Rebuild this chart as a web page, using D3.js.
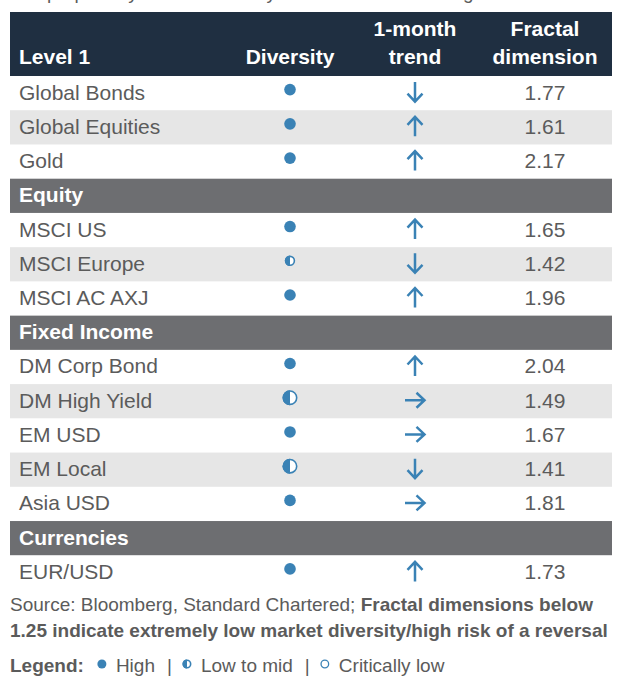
<!DOCTYPE html>
<html>
<head>
<meta charset="utf-8">
<script src="https://cdn.jsdelivr.net/npm/d3@7"></script>
<style>
  html, body { margin: 0; padding: 0; background: #fff; }
  svg { display: block; }
  text { font-family: "Liberation Sans", Arial, Helvetica, sans-serif; }
</style>
</head>
<body>
<div id="chart"></div>
<script>
// ---- data ----
const sections = ["Level 1", "Equity", "Fixed Income", "Currencies"];
const assets = ["Global Bonds", "Global Equities", "Gold", "MSCI US", "MSCI Europe", "MSCI AC AXJ",
  "DM Corp Bond", "DM High Yield", "EM USD", "EM Local", "Asia USD", "EUR/USD"];
const assetSection = [0, 0, 0, 1, 1, 1, 2, 2, 2, 2, 2, 3];
const diversity = ["high", "high", "high", "high", "mid-small", "high", "high", "mid", "high", "mid", "high", "high"];
const trend = ["down", "up", "up", "up", "down", "up", "up", "right", "right", "down", "right", "up"];
const fractal = [1.77, 1.61, 2.17, 1.65, 1.42, 1.96, 2.04, 1.49, 1.67, 1.41, 1.81, 1.73];
const headers = [["Level 1"], ["Diversity"], ["1-month", "trend"], ["Fractal", "dimension"]];
const titleText = "Our proprietary market diversity indicators as of 18 August";
const sourceText = "Source: Bloomberg, Standard Chartered; ";
const noteBold1 = "Fractal dimensions below";
const noteBold2 = "1.25 indicate extremely low market diversity/high risk of a reversal";
const legendItems = [["high", "High"], ["mid-small", "Low to mid"], ["low", "Critically low"]];

// ---- build rows ----
const rows = [];
let lastSec = 0, idxInSec = 0;
assets.forEach((a, i) => {
  const s = assetSection[i];
  if (s !== lastSec) { rows.push({ type: "section", label: sections[s] }); lastSec = s; idxInSec = 0; }
  rows.push({ type: "asset", label: a, div: diversity[i], trend: trend[i], val: fractal[i], stripe: idxInSec % 2 === 1 });
  idxInSec++;
});

const W = 628, H = 694;
const left = 10, right = 612;
const navy = "#1f2f41", secGray = "#6d6e71", stripe = "#e6e6e6", txt = "#5b5b5b", blue = "#3a82b5";

const svg = d3.select("#chart").append("svg").attr("width", W).attr("height", H);

const y = d3.scaleBand().domain(d3.range(rows.length)).range([76, 589.5]).padding(0);
const x = d3.scaleOrdinal().domain(["label", "div", "trend", "val"]).range([19, 290, 415, 545]);

// title (clipped at top, as in the reference crop)
svg.append("text").attr("x", 10).attr("y", -1).attr("font-size", 19).attr("fill", txt).text(titleText);

// header
svg.append("rect").attr("x", left).attr("y", 12).attr("width", right - left).attr("height", 76 - 12).attr("fill", navy);
const hx = [19, 290, 415, 545];
headers.forEach((lines, j) => {
  const t = svg.append("text").attr("x", hx[j]).attr("font-size", 21).attr("font-weight", "bold")
    .attr("fill", "#fff").attr("text-anchor", j === 0 ? "start" : "middle");
  lines.forEach((l, k) => {
    t.append("tspan").attr("x", hx[j]).attr("y", 64 - (lines.length - 1 - k) * 28).text(l);
  });
});

// rows
const g = svg.selectAll("g.row").data(rows).join("g").attr("class", "row")
  .attr("transform", (d, i) => `translate(0,${y(i)})`);

g.append("rect").attr("x", left).attr("width", right - left).attr("height", y.bandwidth() + 0.5)
  .attr("fill", d => d.type === "section" ? secGray : (d.stripe ? stripe : "#fff"));

const cy = y.bandwidth() / 2;
g.append("text").attr("x", x("label")).attr("y", cy + 6.5)
  .attr("font-size", 21)
  .attr("font-weight", d => d.type === "section" ? "bold" : "normal")
  .attr("fill", d => d.type === "section" ? "#fff" : txt)
  .text(d => d.label);

const assetsG = g.filter(d => d.type === "asset");

function drawSymbol(sel, kind, r) {
  if (kind === "high") {
    sel.append("circle").attr("r", r).attr("fill", blue);
  } else if (kind === "low") {
    sel.append("circle").attr("r", r - 0.7).attr("fill", "none").attr("stroke", blue).attr("stroke-width", 1.3);
  } else {
    sel.append("circle").attr("r", r - 0.8).attr("fill", "#fff").attr("stroke", blue).attr("stroke-width", 1.6);
    sel.append("path").attr("d", d3.arc()({ innerRadius: 0, outerRadius: r, startAngle: Math.PI, endAngle: 2 * Math.PI })).attr("fill", blue);
  }
}

assetsG.each(function (d) {
  const s = d3.select(this).append("g").attr("transform", `translate(${x("div")},${cy - 3.5})`);
  const r = d.div === "high" ? 5.8 : (d.div === "mid" ? 7.5 : 5.2);
  drawSymbol(s, d.div, r);
});

const arrowRot = { up: 0, down: 180, right: 90 };
assetsG.append("path")
  .attr("transform", d => `translate(${x("trend")},${cy - 1}) rotate(${arrowRot[d.trend]})`)
  .attr("d", "M0,10 L0,-9.5 M-7.5,-1.5 L0,-9.5 L7.5,-1.5")
  .attr("fill", "none").attr("stroke", blue).attr("stroke-width", 2.5).attr("stroke-linejoin", "miter");

assetsG.append("text").attr("x", x("val")).attr("y", cy + 6.5).attr("text-anchor", "middle")
  .attr("font-size", 21).attr("fill", txt).text(d => d.val.toFixed(2));

// footer note
const note = svg.append("text").attr("x", 10).attr("y", 611).attr("font-size", 19).attr("fill", txt);
note.append("tspan").text(sourceText);
note.append("tspan").attr("font-weight", "bold").text(noteBold1);
svg.append("text").attr("x", 10).attr("y", 637).attr("font-size", 19).attr("fill", txt)
  .attr("font-weight", "bold").text(noteBold2);

// legend
const lg = svg.append("g").attr("transform", "translate(10,672)");
const lt = lg.append("text").attr("font-size", 19).attr("font-weight", "bold").attr("fill", txt).text("Legend:");
let lx = lt.node().getComputedTextLength() + 18;
legendItems.forEach(([k, lab], i) => {
  const s = lg.append("g").attr("transform", `translate(${lx},-8)`);
  drawSymbol(s, k, 4.5);
  const t = lg.append("text").attr("x", lx + 14).attr("font-size", 19).attr("fill", txt).text(lab);
  let end = lx + 14 + t.node().getComputedTextLength();
  if (i < legendItems.length - 1) {
    lg.append("text").attr("x", end + 12).attr("font-size", 19).attr("fill", txt).text("|");
    lx = end + 12 + 20;
  }
});
</script>
</body>
</html>
